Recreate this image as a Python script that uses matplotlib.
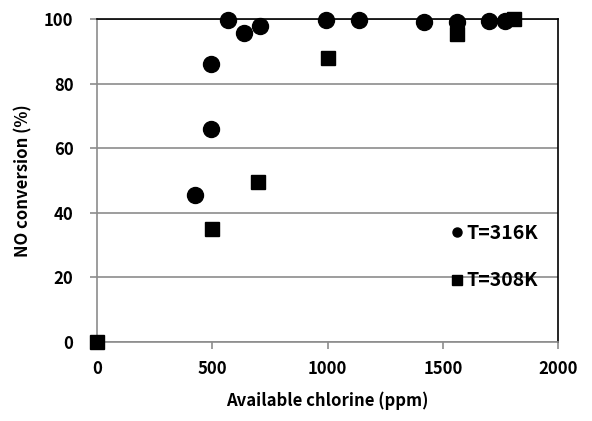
import matplotlib
matplotlib.use("Agg")
import matplotlib.pyplot as plt
from matplotlib.lines import Line2D

plt.rcParams["font.family"] = ["Noto Sans CJK KR", "DejaVu Sans"]

# T=316K series
chlorine_316 = [424, 496, 496, 567, 637, 708, 993, 1134, 1418, 1560, 1701, 1767]
conv_316 = [45.5, 65.9, 86.0, 99.7, 95.6, 97.8, 99.7, 99.7, 99.2, 99.2, 99.5, 99.5]

# T=308K series
chlorine_308 = [0, 499, 700, 1000, 1560, 1806]
conv_308 = [0.0, 35.1, 49.6, 87.8, 95.2, 100.0]

xticks = [0, 500, 1000, 1500, 2000]
yticks = [0, 20, 40, 60, 80, 100]

fig = plt.figure(figsize=(5.92, 4.21), dpi=100)
ax = fig.add_axes([0.164, 0.188, 0.779, 0.767])

ax.plot(chlorine_316, conv_316, "o", color="black", ms=11.5, clip_on=False, zorder=3)
ax.plot(chlorine_308, conv_308, "s", color="black", ms=10.5, clip_on=False, zorder=3)

ax.set_xlim(0, 2000)
ax.set_ylim(0, 100)
ax.set_xticks(xticks)
ax.set_yticks(yticks)
ax.yaxis.grid(True, color="#8c8c8c", lw=1.2)
ax.set_axisbelow(True)

for s in ["left", "bottom"]:
    ax.spines[s].set_color("#8c8c8c")
    ax.spines[s].set_linewidth(1.2)
for s in ["top", "right"]:
    ax.spines[s].set_color("black")
    ax.spines[s].set_linewidth(1.2)

ax.tick_params(axis="both", direction="out", length=5, color="#8c8c8c",
               labelsize=12, width=1.2)
ax.tick_params(axis="x", pad=8)
ax.tick_params(axis="y", pad=12)
for lab in ax.get_xticklabels() + ax.get_yticklabels():
    lab.set_fontweight("bold")

ax.set_xlabel("Available chlorine (ppm)", fontsize=12, fontweight="bold", labelpad=10)
ax.set_ylabel("NO conversion (%)", fontsize=12, fontweight="bold", labelpad=8)

handles = [
    Line2D([], [], ls="none", marker="o", color="black", ms=6.5),
    Line2D([], [], ls="none", marker="s", color="black", ms=6.5),
]
leg = ax.legend(handles, ["T=316K", "T=308K"], loc="center left",
                bbox_to_anchor=(0.752, 0.262), frameon=False, handlelength=0.5,
                handletextpad=0.25, labelspacing=1.45, borderaxespad=0,
                prop={"size": 14, "weight": "bold"})

fig.savefig("out.png", dpi=100)
